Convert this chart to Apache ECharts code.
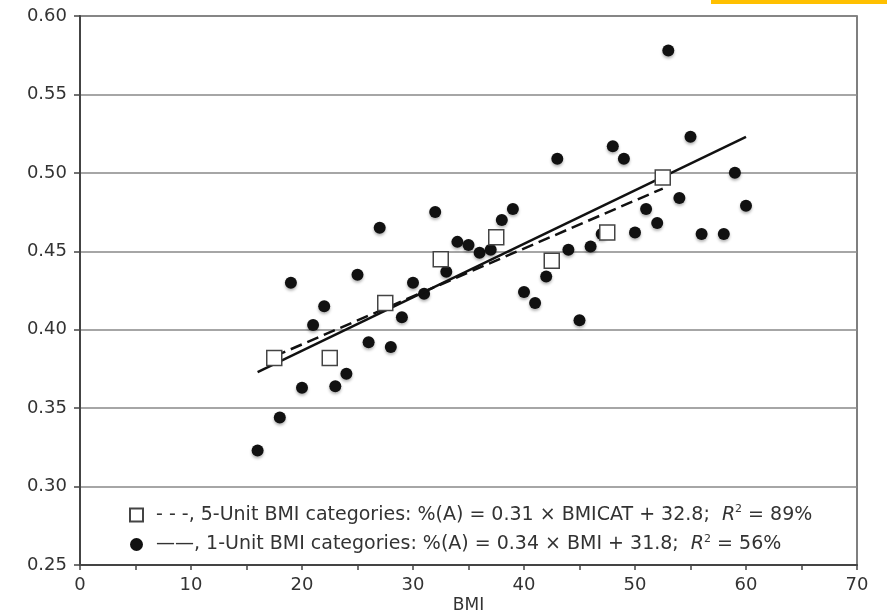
<!DOCTYPE html>
<html>
<head>
<meta charset="utf-8">
<title>BMI vs %(A)</title>
<script src="https://cdn.jsdelivr.net/npm/echarts@6/dist/echarts.min.js"></script>
<style>
    html, body { margin: 0; padding: 0; background: #fff; }
    #main { width: 887px; height: 614px; }
</style>
</head>
<body>
<div id="main"></div>
<script>
// 1-unit BMI categories (dots)
var bmi1 = [16, 18, 19, 20, 21, 22, 23, 24, 25, 26, 27, 28, 29, 30, 31, 32, 33, 34, 35, 36, 37, 38,
    39, 40, 41, 42, 43, 44, 45, 46, 47, 48, 49, 50, 51, 52, 53, 54, 55, 56, 58, 59, 60];
var pctA1 = [0.323, 0.344, 0.430, 0.363, 0.403, 0.415, 0.364, 0.372, 0.435, 0.392, 0.465, 0.389,
    0.408, 0.430, 0.423, 0.475, 0.437, 0.456, 0.454, 0.449, 0.451, 0.470, 0.477, 0.424, 0.417,
    0.434, 0.509, 0.451, 0.406, 0.453, 0.461, 0.517, 0.509, 0.462, 0.477, 0.468, 0.578, 0.484,
    0.523, 0.461, 0.461, 0.500, 0.479];

// 5-unit BMI categories (squares)
var bmi5 = [17.5, 22.5, 27.5, 32.5, 37.5, 42.5, 47.5, 52.5];
var pctA5 = [0.382, 0.382, 0.417, 0.445, 0.459, 0.444, 0.462, 0.497];

// fitted lines, end points
var fit1 = [[16, 0.373], [60, 0.523]];
var fit5 = [[17.5, 0.383], [52.5, 0.490]];

// legend texts
var legend5 = '- - -, 5-Unit BMI categories: %(A) = 0.31 \u00d7 BMICAT + 32.8;  ';
var legend1 = '\u2014\u2014, 1-Unit BMI categories: %(A) = 0.34 \u00d7 BMI + 31.8;  ';
var r2Values = ['89%', '56%'];

var font = 'DejaVu Sans, Verdana, sans-serif';
var chart = echarts.init(document.getElementById('main'));

function pairs(xs, ys) {
    var out = [];
    for (var i = 0; i < xs.length; i++) {
        out.push([xs[i], ys[i]]);
    }
    return out;
}

chart.setOption({
    animation: false,
    backgroundColor: '#fff',
    textStyle: { fontFamily: font },
    grid: {
        left: 80,
        right: 30,
        top: 16,
        bottom: 49,
        containLabel: false,
        outerBoundsMode: 'none', // keep the plot box fixed, labels may hang outside
        show: true,
        borderColor: '#555',
        borderWidth: 1.5
    },
    // yellow strip at the top right of the picture
    graphic: [{
        type: 'rect',
        shape: { x: 711, y: 0, width: 176, height: 4 },
        style: { fill: '#ffc000' },
        silent: true
    }],
    legend: {
        orient: 'vertical',
        left: 124,
        top: 499,
        itemWidth: 13,
        itemHeight: 13,
        itemGap: 9,
        data: ['5-Unit', '1-Unit'],
        formatter: function (name) {
            var i = name === '5-Unit' ? 0 : 1;
            var txt = i === 0 ? legend5 : legend1;
            return '{g| }{t|' + txt + '}{i|R}{s|2}{t| = ' + r2Values[i] + '}';
        },
        textStyle: {
            fontFamily: font,
            rich: {
                g: { width: 8 },
                t: { fontSize: 19, color: '#333', lineHeight: 22, fontFamily: font },
                i: { fontSize: 19, color: '#333', fontStyle: 'italic', lineHeight: 22, fontFamily: font },
                s: { fontSize: 11, color: '#333', verticalAlign: 'top', lineHeight: 13, fontFamily: font }
            }
        }
    },
    xAxis: {
        type: 'value',
        min: 0,
        max: 70,
        interval: 10,
        name: 'BMI',
        nameLocation: 'middle',
        nameGap: 32,
        nameMoveOverlap: false, // place the name by nameGap only
        nameTextStyle: { fontSize: 17, color: '#333', fontFamily: font },
        axisLine: { show: true, lineStyle: { color: '#444', width: 2 } },
        axisTick: { show: true, length: 5, lineStyle: { color: '#444', width: 1.5 } },
        minorTick: { show: true, splitNumber: 2, length: 5, lineStyle: { color: '#444', width: 1.5 } },
        axisLabel: { fontSize: 18, color: '#333', margin: 11, fontFamily: font },
        splitLine: { show: false }
    },
    yAxis: {
        type: 'value',
        min: 0.25,
        max: 0.60,
        interval: 0.05,
        axisLine: { show: true, lineStyle: { color: '#444', width: 2 } },
        axisTick: { show: true, length: 6, lineStyle: { color: '#444', width: 1.5 } },
        axisLabel: {
            fontSize: 18,
            color: '#333',
            margin: 13,
            fontFamily: font,
            formatter: function (v) { return v.toFixed(2); }
        },
        splitLine: { show: true, lineStyle: { color: '#888', width: 1.5 } }
    },
    series: [{
        name: '1-Unit',
        type: 'scatter',
        symbol: 'circle',
        symbolSize: 12,
        z: 2,
        itemStyle: {
            color: '#111',
            opacity: 1,
            shadowColor: 'rgba(0,0,0,0.3)',
            shadowBlur: 3,
            shadowOffsetY: 2
        },
        data: pairs(bmi1, pctA1)
    }, {
        name: 'fit 1-Unit',
        type: 'line',
        symbol: 'none',
        z: 3,
        lineStyle: { color: '#111', width: 2.5, type: 'solid' },
        data: fit1
    }, {
        name: 'fit 5-Unit',
        type: 'line',
        symbol: 'none',
        z: 3,
        lineStyle: { color: '#111', width: 2.5, type: [12, 6] },
        data: fit5
    }, {
        name: '5-Unit',
        type: 'scatter',
        symbol: 'rect',
        symbolSize: 15,
        z: 4,
        itemStyle: { color: '#fff', opacity: 1, borderColor: '#444', borderWidth: 1.5 },
        data: pairs(bmi5, pctA5)
    }]
});
</script>
</body>
</html>
